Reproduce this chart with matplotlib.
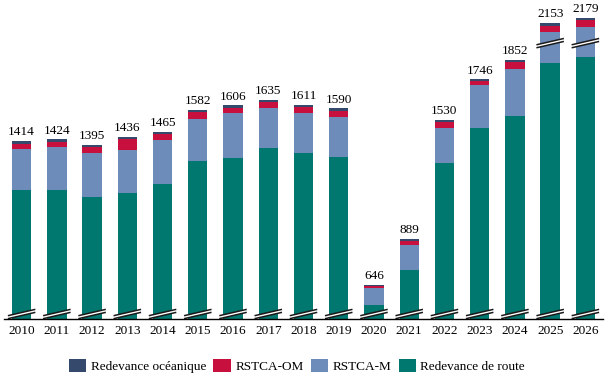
import numpy as np
import matplotlib.pyplot as plt
from matplotlib.patches import Polygon

plt.rcParams['font.family'] = ['Liberation Serif', 'DejaVu Serif']

years = ['2010', '2011', '2012', '2013', '2014', '2015', '2016', '2017', '2018',
         '2019', '2020', '2021', '2022', '2023', '2024', '2025', '2026']
totals = [1414, 1424, 1395, 1436, 1465, 1582, 1606, 1635, 1611,
          1590, 646, 889, 1530, 1746, 1852, 2153, 2179]
oceanique = [12, 14, 14, 12, 12, 12, 14, 9, 16, 16, 7, 11, 12, 11, 12, 16, 11]
rstca_om = [31, 27, 28, 59, 31, 34, 28, 34, 32, 32, 9, 21, 32, 21, 36, 32, 38]
rstca_m = [220, 232, 236, 230, 236, 230, 241, 214, 214, 214, 91, 134, 188, 230, 252, 269, 262]
route = [1151, 1151, 1117, 1135, 1186, 1306, 1323, 1378, 1349, 1328, 539, 723, 1298, 1484, 1552, 1836, 1868]

c_ocean = '#34496b'
c_om = '#c8103e'
c_m = '#6e8cba'
c_route = '#00776f'

y_min = 464      # bottom of axis (bars broken below)
cut = 105        # amount removed from RSTCA-M on the tallest bars
cut_above = 2000

fig = plt.figure(figsize=(6.13, 3.79), dpi=100)
ax = fig.add_axes([4/613, 60.5/379, 599/613, 316.5/379])

x = np.arange(len(years))
route = np.array(route)
m_disp = np.array([m - cut if t > cut_above else m for m, t in zip(rstca_m, totals)])
om = np.array(rstca_om)
oc = np.array(oceanique)
w = 0.55

ax.bar(x, route, width=w, color=c_route, label='Redevance de route')
ax.bar(x, m_disp, width=w, bottom=route, color=c_m, label='RSTCA-M')
ax.bar(x, om, width=w, bottom=route + m_disp, color=c_om, label='RSTCA-OM')
ax.bar(x, oc, width=w, bottom=route + m_disp + om, color=c_ocean, label='Redevance océanique')

tops = route + m_disp + om + oc
for xi, top, t in zip(x, tops, totals):
    ax.annotate(str(t), (xi, top), xytext=(0, 2), textcoords='offset points',
                ha='center', va='bottom', fontsize=9.5, annotation_clip=False)


def draw_break(xc, yc, hw=0.39, rise=17, gap=8):
    xl, xr = xc - hw, xc + hw
    lo = [(xl, yc - rise - gap), (xr, yc + rise - gap)]
    up = [(xl, yc - rise + gap), (xr, yc + rise + gap)]
    ax.add_patch(Polygon([lo[0], lo[1], up[1], up[0]], closed=True,
                         facecolor='white', edgecolor='none', zorder=5))
    for seg in (lo, up):
        ax.plot([seg[0][0], seg[1][0]], [seg[0][1], seg[1][1]],
                color='#1a1a1a', lw=1.1, zorder=6, solid_capstyle='butt')


for xi, t in zip(x, totals):
    draw_break(xi, 488)
    if t > cut_above:
        draw_break(xi, 1940)

ax.set_xlim(-0.5, len(years) - 0.5)
ax.set_ylim(y_min, y_min + 316.5 * 5.36)
ax.set_xticks(x)
ax.set_xticklabels(years, fontsize=9.5)
ax.tick_params(axis='x', length=0, pad=5)
ax.set_yticks([])
for s in ['left', 'right', 'top']:
    ax.spines[s].set_visible(False)
ax.spines['bottom'].set_color('black')
ax.spines['bottom'].set_linewidth(1.0)
ax.spines['bottom'].set_zorder(7)

handles, labels = ax.get_legend_handles_labels()
fig.legend(handles[::-1], labels[::-1], loc='center', bbox_to_anchor=(297/613, 1 - 366/379),
           ncol=4, frameon=False, fontsize=9.5, handlelength=1.3, handleheight=1.1,
           handletextpad=0.35, columnspacing=0.55)

fig.savefig('out.png', dpi=100)
